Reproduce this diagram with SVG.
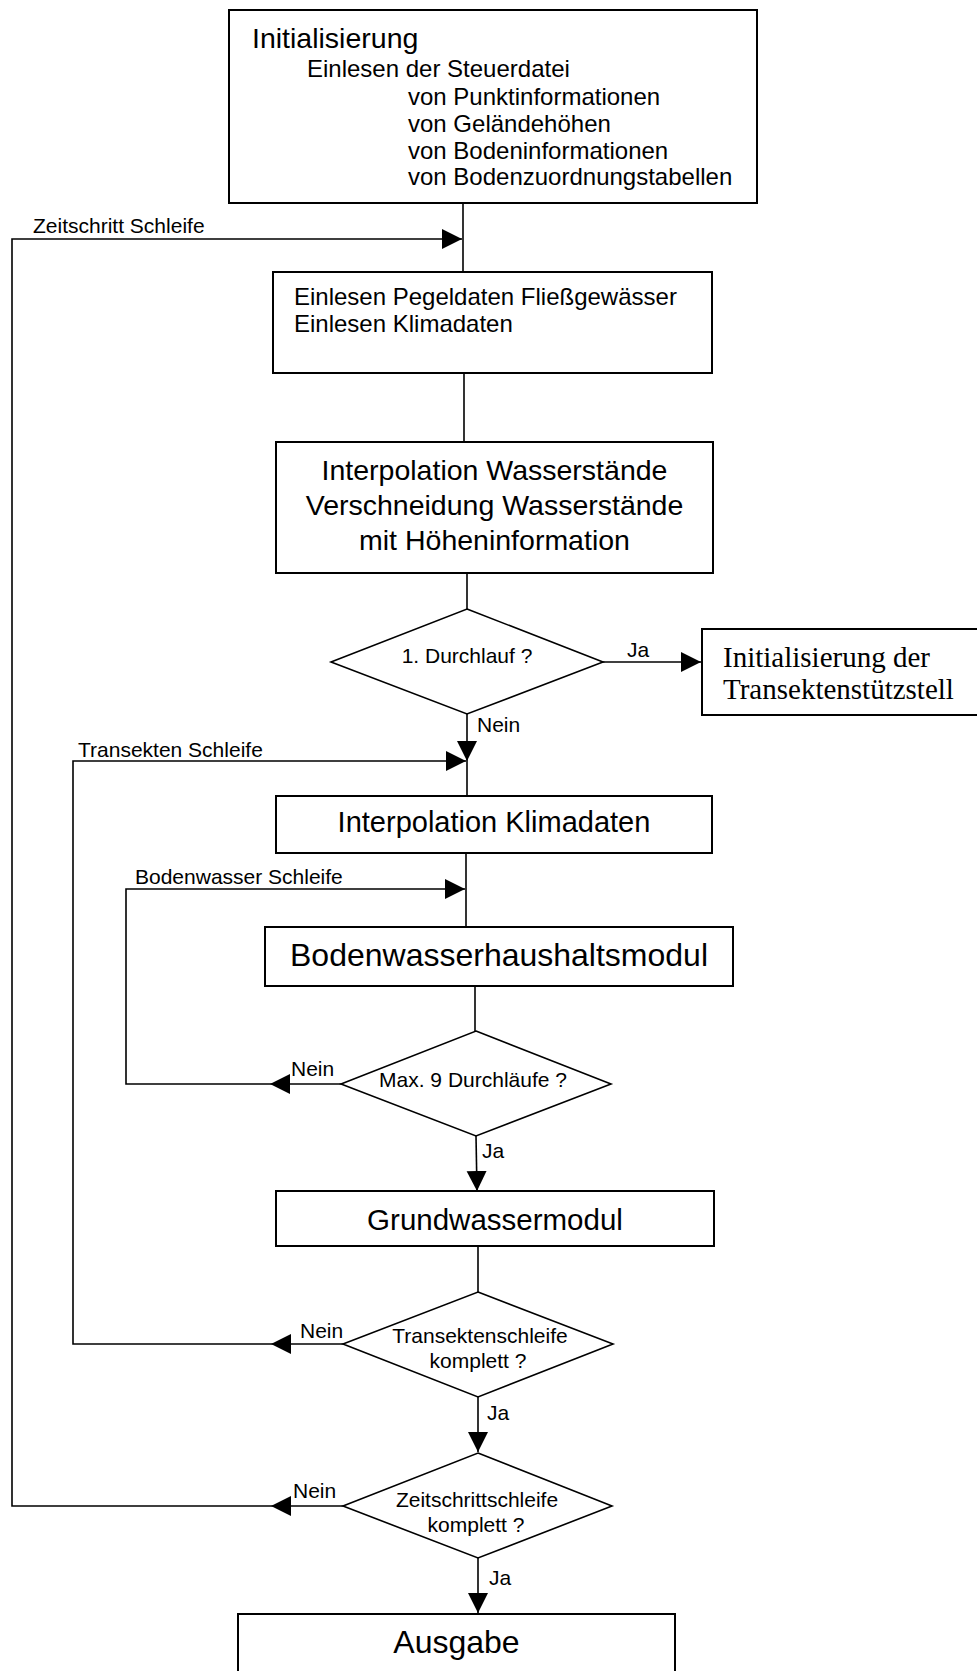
<svg xmlns="http://www.w3.org/2000/svg" width="977" height="1671" viewBox="0 0 977 1671">
<style>
.box{fill:#fff;stroke:#000;stroke-width:2}
.dia{fill:#fff;stroke:#000;stroke-width:1.6}
.ln{fill:none;stroke:#000;stroke-width:1.6}
.t{font-family:"Liberation Sans",Arial,sans-serif;fill:#000}
.lbl{font-family:"Liberation Sans",Arial,sans-serif;font-size:21px;fill:#000}
.serif{font-family:"Liberation Serif","Times New Roman",serif;font-size:29px;fill:#000}
.c{text-anchor:middle}
</style>
<defs>
<marker id="ah" markerUnits="userSpaceOnUse" markerWidth="22" markerHeight="22" refX="20" refY="10" orient="auto">
<path d="M0,0 L20,10 L0,20 z" fill="#000"/>
</marker>
</defs>
<rect width="977" height="1671" fill="#fff"/>
<g id="connectors">
<line class="ln" x1="463" y1="203" x2="463" y2="272"/>
<line class="ln" x1="464" y1="373" x2="464" y2="442"/>
<line class="ln" x1="467" y1="573" x2="467" y2="609"/>
<line class="ln" x1="603" y1="662" x2="701" y2="662" marker-end="url(#ah)"/>
<line class="ln" x1="467" y1="714" x2="467" y2="761" marker-end="url(#ah)"/>
<line class="ln" x1="467" y1="761" x2="467" y2="796"/>
<line class="ln" x1="466" y1="853" x2="466" y2="927"/>
<line class="ln" x1="475" y1="986" x2="475" y2="1031"/>
<line class="ln" x1="476" y1="1136" x2="477" y2="1191" marker-end="url(#ah)"/>
<line class="ln" x1="478" y1="1246" x2="478" y2="1292"/>
<line class="ln" x1="478" y1="1397" x2="478" y2="1452" marker-end="url(#ah)"/>
<line class="ln" x1="478" y1="1558" x2="478" y2="1613" marker-end="url(#ah)"/>
<line class="ln" x1="341" y1="1084" x2="270" y2="1084" marker-end="url(#ah)"/>
<polyline class="ln" points="270,1084 126,1084 126,889 465,889" marker-end="url(#ah)"/>
<line class="ln" x1="343" y1="1344" x2="271" y2="1344" marker-end="url(#ah)"/>
<polyline class="ln" points="271,1344 73,1344 73,761 466,761" marker-end="url(#ah)"/>
<line class="ln" x1="343" y1="1506" x2="271" y2="1506" marker-end="url(#ah)"/>
<polyline class="ln" points="271,1506 12,1506 12,239 462,239" marker-end="url(#ah)"/>
<text class="lbl" x="33" y="233">Zeitschritt Schleife</text>
<text class="lbl" x="78" y="757">Transekten Schleife</text>
<text class="lbl" x="135" y="884">Bodenwasser Schleife</text>
<text class="lbl" x="627" y="657">Ja</text>
<text class="lbl" x="477" y="732">Nein</text>
<text class="lbl" x="291" y="1076">Nein</text>
<text class="lbl" x="482" y="1158">Ja</text>
<text class="lbl" x="300" y="1338">Nein</text>
<text class="lbl" x="487" y="1420">Ja</text>
<text class="lbl" x="293" y="1498">Nein</text>
<text class="lbl" x="489" y="1585">Ja</text>
</g>
<g id="init">
<rect class="box" x="229" y="10" width="528" height="193"/>
<text class="t" x="252" y="48" font-size="28.5">Initialisierung</text>
<text class="t" x="307" y="77" font-size="24">Einlesen der Steuerdatei</text>
<text class="t" x="408" y="105" font-size="24">von Punktinformationen</text>
<text class="t" x="408" y="132" font-size="24">von Geländehöhen</text>
<text class="t" x="408" y="159" font-size="24">von Bodeninformationen</text>
<text class="t" x="408" y="185" font-size="24">von Bodenzuordnungstabellen</text>
</g>
<g id="einlesen">
<rect class="box" x="273" y="272" width="439" height="101"/>
<text class="t" x="294" y="305" font-size="24">Einlesen Pegeldaten Fließgewässer</text>
<text class="t" x="294" y="332" font-size="24">Einlesen Klimadaten</text>
</g>
<g id="interp-wasser">
<rect class="box" x="276" y="442" width="437" height="131"/>
<text class="t c" x="494.5" y="480" font-size="28.5">Interpolation Wasserstände</text>
<text class="t c" x="494.5" y="515" font-size="28.5">Verschneidung Wasserstände</text>
<text class="t c" x="494.5" y="550" font-size="28.5">mit Höheninformation</text>
</g>
<g id="durchlauf">
<polygon class="dia" points="467,609 603,662 467,714 331,662"/>
<text class="lbl c" x="467" y="663">1. Durchlauf ?</text>
</g>
<g id="init-transekten">
<rect class="box" x="702" y="629" width="300" height="86"/>
<text class="serif" x="723" y="667">Initialisierung der</text>
<text class="serif" x="723" y="699">Transektenstützstell</text>
</g>
<g id="interp-klima">
<rect class="box" x="276" y="796" width="436" height="57"/>
<text class="t c" x="494" y="832" font-size="29">Interpolation Klimadaten</text>
</g>
<g id="bodenwasser">
<rect class="box" x="265" y="927" width="468" height="59"/>
<text class="t c" x="499" y="966" font-size="32">Bodenwasserhaushaltsmodul</text>
</g>
<g id="max9">
<polygon class="dia" points="476,1031 611,1084 476,1136 341,1084"/>
<text class="lbl c" x="473" y="1087">Max. 9 Durchläufe ?</text>
</g>
<g id="grundwasser">
<rect class="box" x="276" y="1191" width="438" height="55"/>
<text class="t c" x="495" y="1230" font-size="29.5">Grundwassermodul</text>
</g>
<g id="transektenschleife">
<polygon class="dia" points="478,1292 613,1344 478,1397 343,1344"/>
<text class="lbl c" x="480" y="1343">Transektenschleife</text>
<text class="lbl c" x="478" y="1368">komplett ?</text>
</g>
<g id="zeitschrittschleife">
<polygon class="dia" points="478,1453 612,1506 478,1558 343,1506"/>
<text class="lbl c" x="477" y="1507">Zeitschrittschleife</text>
<text class="lbl c" x="476" y="1532">komplett ?</text>
</g>
<g id="ausgabe">
<rect class="box" x="238" y="1614" width="437" height="80"/>
<text class="t c" x="456.5" y="1653" font-size="32">Ausgabe</text>
</g>
</svg>
